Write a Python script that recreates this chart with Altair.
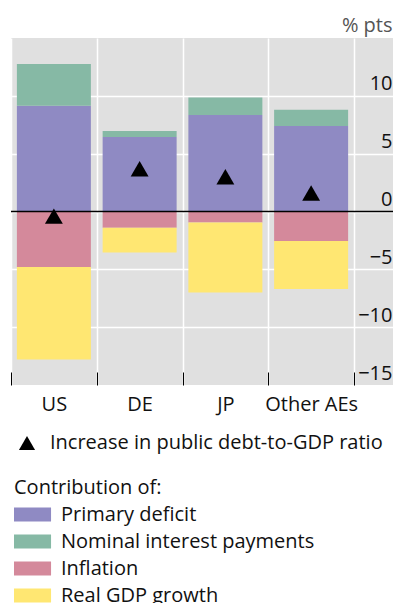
import altair as alt
import pandas as pd

countries = ["US", "DE", "JP", "Other AEs"]
components = ["Primary deficit", "Nominal interest payments", "Inflation", "Real GDP growth"]
primary_deficit = [9.15, 6.45, 8.35, 7.4]
interest_payments = [3.6, 0.5, 1.5, 1.4]
inflation = [-4.8, -1.4, -0.95, -2.55]
real_gdp_growth = [-8.0, -2.15, -6.05, -4.15]
debt_increase = [-0.4, 3.7, 3.0, 1.6]
colors = ["#8f8ac3", "#86b9a5", "#d4899b", "#ffe772"]
y_ticks = [-15, -10, -5, 0, 5, 10]
marker_label = "Increase in public debt-to-GDP ratio"

FONT = "Open Sans"
FS = 20

rows = []
for series_i, (comp, vals) in enumerate(zip(components, [primary_deficit, interest_payments, inflation, real_gdp_growth])):
    for c, v in zip(countries, vals):
        rows.append({"country": c, "component": comp, "value": v, "order": series_i})
bars_df = pd.DataFrame(rows)
tri_df = pd.DataFrame({"country": countries, "value": debt_increase, "label": [marker_label] * len(countries)})
zero_df = pd.DataFrame({"value": [0]})

x_scale = alt.Scale(domain=countries, paddingInner=0, paddingOuter=0.2274, align=0)
y_scale = alt.Scale(domain=[-15, 15], nice=False, zero=False)

x_enc = alt.X(
    "country:N", sort=countries, scale=x_scale, title=None,
    axis=alt.Axis(
        tickBand="extent", grid=True, gridColor="white", gridWidth=1.5,
        ticks=True, tickColor="black", tickWidth=1, tickSize=13, offset=-13,
        domain=False, labelAngle=0, labelFontSize=FS, labelColor="#111111",
        labelBaseline="alphabetic", labelPadding=25, labelFont=FONT,
    ),
)
y_enc = alt.Y(
    "value:Q", stack="zero", scale=y_scale, title="% pts",
    axis=alt.Axis(
        orient="right", values=y_ticks, grid=True, gridColor="white", gridWidth=1.5,
        gridOpacity={"condition": {"test": "datum.value === -15", "value": 0}, "value": 1},
        ticks=False, tickSize=0, domain=False,
        labelAlign="right", labelPadding=-1, labelBaseline="alphabetic", labelOffset=-6,
        labelFontSize=FS, labelColor="#111111", labelFont=FONT,
        titleAngle=0, titleAlign="right", titleBaseline="alphabetic", titleX=-1, titleY=-7,
        titleFontSize=FS, titleFontWeight="normal", titleColor="#555555", titleFont=FONT,
    ),
)

bars = alt.Chart(bars_df).mark_bar(width=74).encode(
    x=x_enc,
    y=y_enc,
    order=alt.Order("order:Q"),
    color=alt.Color(
        "component:N", sort=components,
        scale=alt.Scale(domain=components, range=colors),
        legend=alt.Legend(
            title="Contribution of:", orient="none", legendX=3, legendY=439.5,
            padding=0, titleFontSize=FS, titleFontWeight="normal", titleColor="#111111",
            titlePadding=4, titleFont=FONT, labelFont=FONT,
            labelFontSize=FS, labelColor="#111111", labelLimit=400, labelOffset=21,
            symbolType="M-1,-0.54H1.85V0.54H-1Z", symbolSize=676, symbolStrokeWidth=0,
            rowPadding=4,
        ),
    ),
)

zero_line = alt.Chart(zero_df).mark_rule(color="black", strokeWidth=1.5).encode(
    y=alt.Y("value:Q", scale=y_scale)
)

triangles = alt.Chart(tri_df).mark_point(filled=True, size=320, color="black", opacity=1).encode(
    x=alt.X("country:N", sort=countries, scale=x_scale),
    y=alt.Y("value:Q", scale=y_scale),
    shape=alt.Shape(
        "label:N", scale=alt.Scale(domain=[marker_label], range=["triangle-up"]),
        legend=alt.Legend(
            title=None, orient="none", legendX=6, legendY=395, padding=0,
            labelFont=FONT, labelFontSize=FS, labelColor="#111111", labelLimit=400,
            labelOffset=13, symbolSize=260, symbolFillColor="black",
            symbolStrokeColor="black", symbolStrokeWidth=0, symbolOpacity=1,
        ),
    ),
)

chart = alt.layer(bars, zero_line, triangles).properties(
    width=382, height=347, autosize="none",
    padding={"left": 3, "top": 30, "right": 0, "bottom": 218},
).configure(font=FONT).configure_view(fill="#e0e0e0", strokeWidth=0)

chart.save("out.html", embed_options={"renderer": "svg", "actions": False})
